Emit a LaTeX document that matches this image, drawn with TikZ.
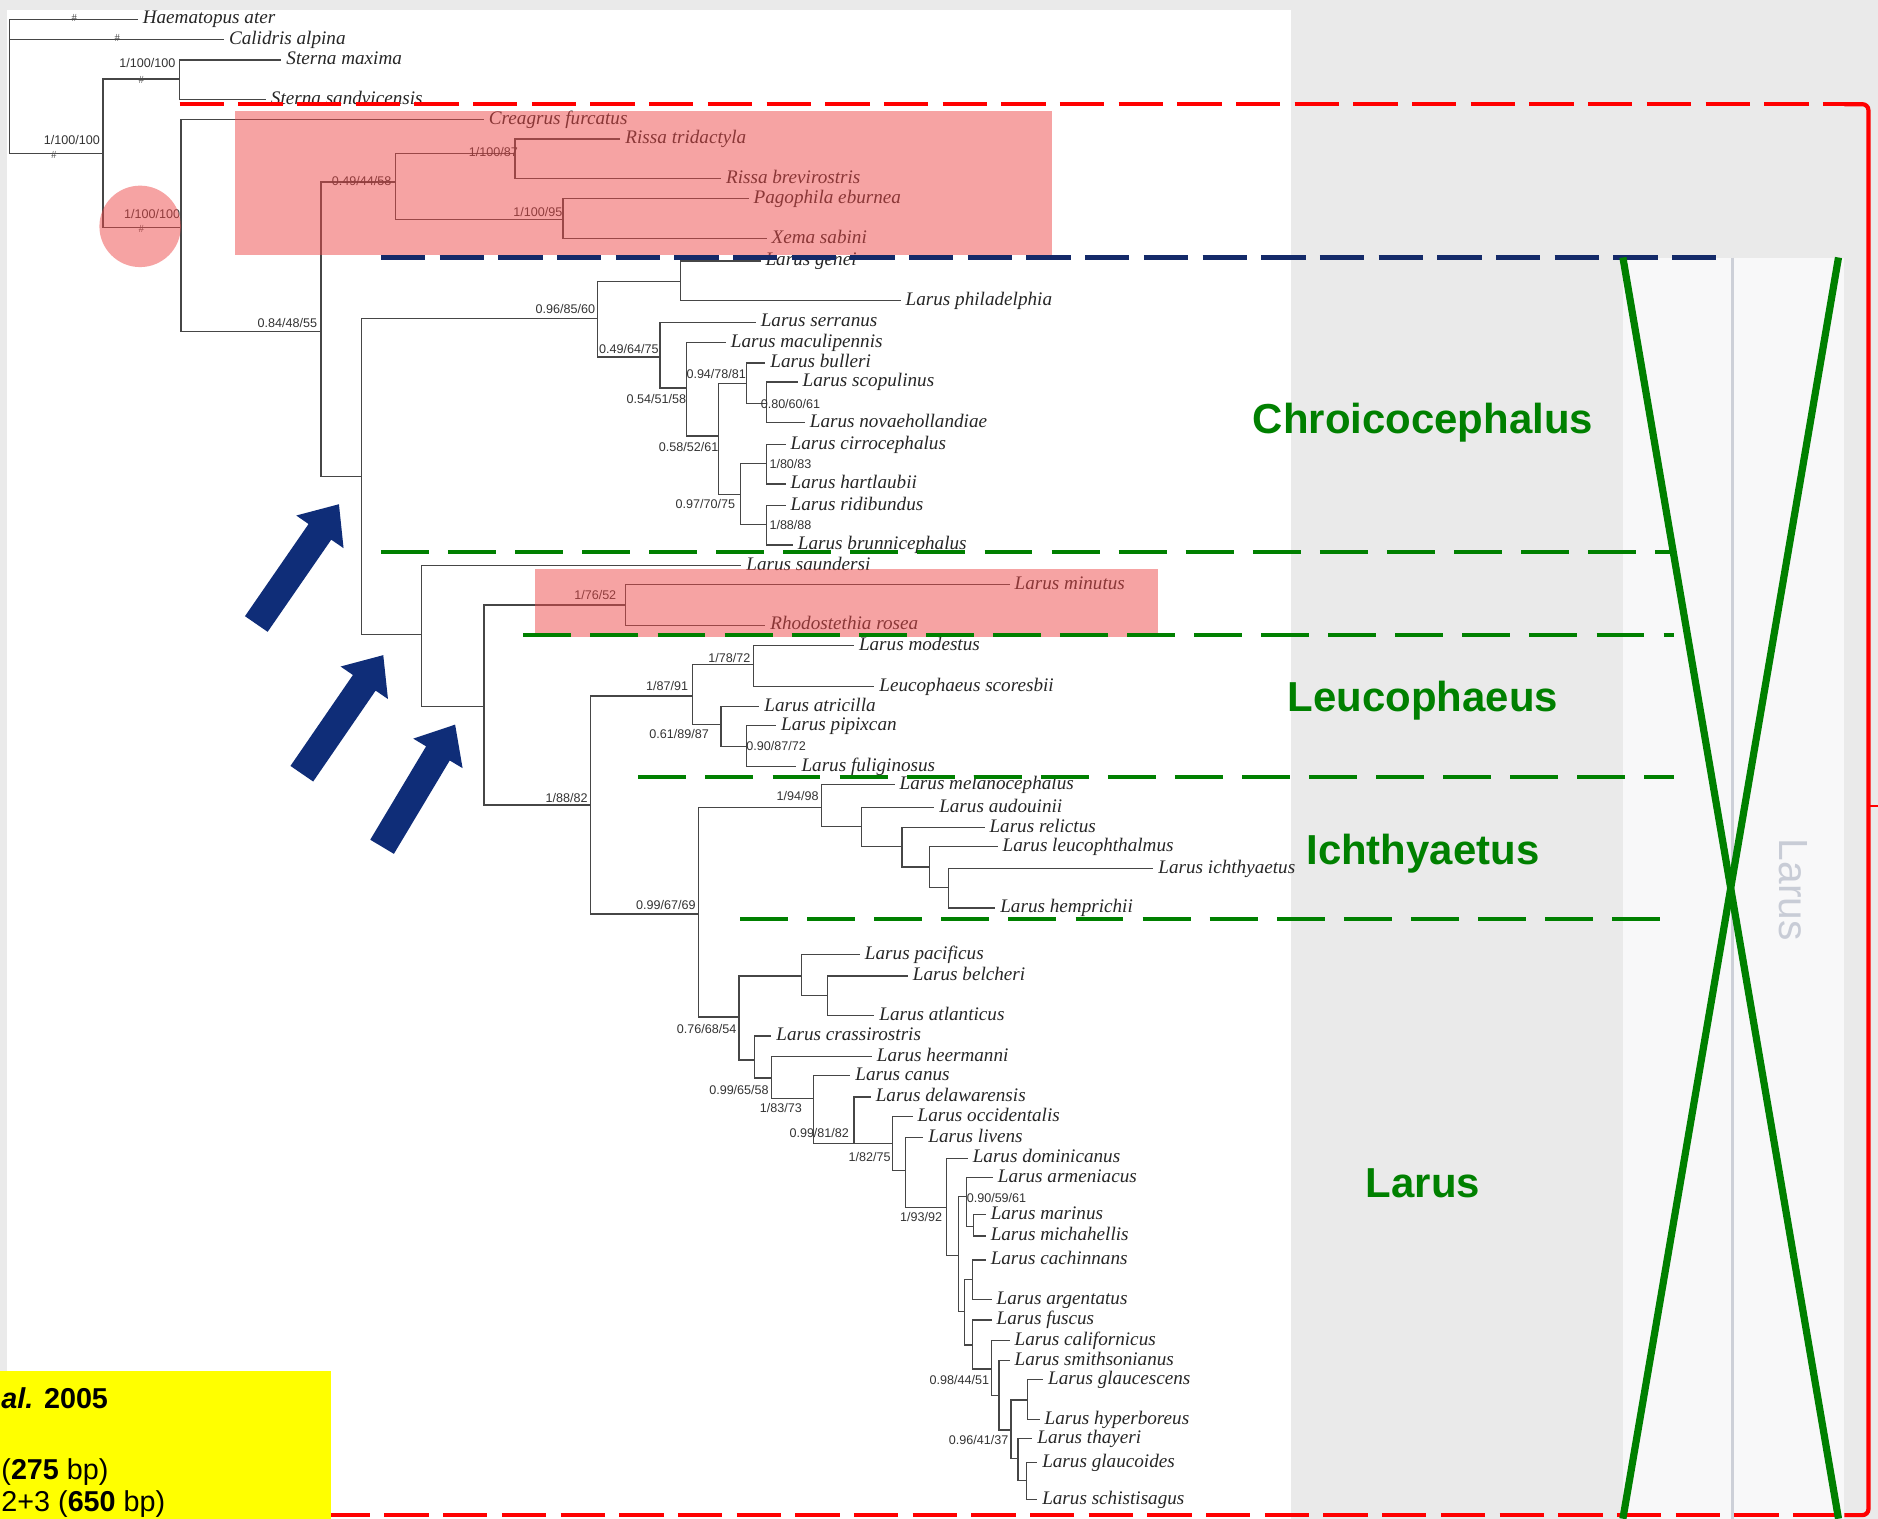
\documentclass[tikz,border=0pt]{standalone}
\usepackage{fontspec}
\setmainfont{Liberation Serif}
\newfontfamily\arialfont{Liberation Sans}
\usetikzlibrary{calc}

\definecolor{bggray}{RGB}{234,234,234}
\definecolor{colwhite}{RGB}{248,248,249}
\definecolor{sepgray}{RGB}{205,208,216}
\definecolor{treeline}{RGB}{70,70,70}
\definecolor{cladered}{RGB}{238,72,72}
\definecolor{framered}{RGB}{255,0,0}
\definecolor{navyline}{RGB}{20,42,105}
\definecolor{navyfill}{RGB}{15,45,120}
\definecolor{genusgreen}{RGB}{0,128,0}
\definecolor{faintlabel}{RGB}{200,204,214}
\definecolor{notebox}{RGB}{255,255,0}

\tikzset{
  br/.style={draw=treeline, line width=1.1pt},
  leaf/.style={anchor=west, inner xsep=4pt, inner ysep=0pt, text height=11pt, text depth=3pt,
    font=\fontsize{16}{16}\selectfont\itshape, text=black!85},
  supp/.style={inner sep=0pt, font=\arialfont\fontsize{10.5}{10.5}\selectfont, text=black!80},
  hashmark/.style={inner sep=0pt, font=\fontsize{9}{9}\selectfont, text=black!70},
  genus/.style={inner sep=0pt, font=\arialfont\bfseries\fontsize{35}{35}\selectfont, text=genusgreen},
  cladebox/.style={fill=cladered, fill opacity=0.5},
  framedash/.style={draw=framered, line width=3.5pt, dash pattern=on 37pt off 12pt},
  basaldash/.style={draw=navyline, line width=3.5pt, dash pattern=on 37pt off 12pt},
  genusdash/.style={draw=genusgreen, line width=3.5pt, dash pattern=on 40pt off 16pt},
  crossline/.style={draw=genusgreen, line width=6pt},
  notetext/.style={anchor=base west, inner sep=0pt, font=\arialfont\fontsize{24}{24}\selectfont},
}

% internal node: coordinate plus elbow branch from its parent
\newcommand{\tnode}[4]{\coordinate (#1) at (#3,#4); \draw[br] (#2) |- (#1);}
% terminal taxon: label plus elbow branch from its parent
\newcommand{\tleaf}[5]{\node[leaf] (#1) at (#3,#4) {#5}; \draw[br] (#2) |- (#1);}
% block arrow from tail to tip
\newcommand{\blockarrow}[3]{%
  \coordinate (#1b) at ($(#3)!28pt!(#2)$);
  \fill[navyfill] ($(#2)!11.5pt!90:(#3)$) -- ($(#1b)!11.5pt!90:(#3)$) -- ($(#1b)!24pt!90:(#3)$)
    -- (#3) -- ($(#1b)!24pt!-90:(#3)$) -- ($(#1b)!11.5pt!-90:(#3)$) -- ($(#2)!11.5pt!-90:(#3)$) -- cycle;}

\begin{document}
\begin{tikzpicture}[x=1pt, y=-1pt]
\useasboundingbox (0,0) rectangle (1568,1268);
\clip (0,0) rectangle (1568,1268);

% backdrop
\fill[bggray] (0,0) rectangle (1568,1268);
\fill[white] (6,8) rectangle (1078,1268);
\fill[colwhite] (1355,215) rectangle (1445,1268);
\fill[colwhite] (1448,215) rectangle (1540,1268);
\draw[sepgray, line width=2pt] (1446.5,215) -- (1446.5,1268);
\node[font=\arialfont\fontsize{34}{34}\selectfont, text=faintlabel, rotate=-90] (rotlarus) at (1497,743) {Larus};

% ---------------- tree ----------------
\coordinate (r0) at (8,72);
\tleaf{haem}{r0}{115}{16}{Haematopus ater}
\tleaf{cali}{r0}{187}{33}{Calidris alpina}
\tnode{n1}{r0}{86}{128}
\tnode{n2}{n1}{150}{66}
\tleaf{smax}{n2}{235}{50}{Sterna maxima}
\tleaf{ssan}{n2}{222}{83}{Sterna sandvicensis}
\tnode{n3}{n1}{151}{190}
\tleaf{creg}{n3}{404}{100}{Creagrus furcatus}
\tnode{n4}{n3}{268}{277}
\tnode{n5}{n4}{330}{152}
\tnode{n7}{n5}{430}{128}
\tleaf{rtri}{n7}{518}{116}{Rissa tridactyla}
\tleaf{rbre}{n7}{602}{149}{Rissa brevirostris}
\tnode{n8}{n5}{470}{183}
\tleaf{pebu}{n8}{625}{166}{Pagophila eburnea}
\tleaf{xsab}{n8}{640}{199}{Xema sabini}
\tnode{n6}{n4}{302}{398}
\tnode{n9}{n6}{499}{266}
\tnode{n11}{n9}{568}{235}
\tleaf{lgen}{n11}{635}{218}{Larus genei}
\tleaf{lphi}{n11}{752}{251}{Larus philadelphia}
\tnode{n12}{n9}{551}{298}
\tleaf{lser}{n12}{631}{269}{Larus serranus}
\tnode{n13}{n12}{573}{324}
\tleaf{lmac}{n13}{606}{286}{Larus maculipennis}
\tnode{n14}{n13}{600}{364}
\tnode{n15}{n14}{623}{320}
\tleaf{lbul}{n15}{639}{303}{Larus bulleri}
\tnode{n17}{n15}{640}{337}
\tleaf{lsco}{n17}{666}{319}{Larus scopulinus}
\tleaf{lnov}{n17}{672}{353}{Larus novaehollandiae}
\tnode{n16}{n14}{618}{413}
\tnode{n18}{n16}{640}{387}
\tleaf{lcir}{n18}{656}{371}{Larus cirrocephalus}
\tleaf{lhar}{n18}{656}{404}{Larus hartlaubii}
\tnode{n19}{n16}{640}{438}
\tleaf{lrid}{n19}{656}{422}{Larus ridibundus}
\tleaf{lbru}{n19}{662}{455}{Larus brunnicephalus}
\tnode{n10}{n6}{352}{530}
\tleaf{lsau}{n10}{619}{472}{Larus saundersi}
\tnode{n20}{n10}{404}{590}
\tnode{n21}{n20}{522}{505}
\tleaf{lmin}{n21}{843}{488}{Larus minutus}
\tleaf{rros}{n21}{639}{522}{Rhodostethia rosea}
\tnode{n22}{n20}{493}{672}
\tnode{n23}{n22}{578}{581}
\tnode{n25}{n23}{629}{555}
\tleaf{lmod}{n25}{713}{539}{Larus modestus}
\tleaf{lesc}{n25}{730}{573}{Leucophaeus scoresbii}
\tnode{n26}{n23}{602}{605}
\tleaf{latr}{n26}{634}{590}{Larus atricilla}
\tnode{n27}{n26}{623}{623}
\tleaf{lpip}{n27}{648}{606}{Larus pipixcan}
\tleaf{lful}{n27}{665}{640}{Larus fuliginosus}
\tnode{n24}{n22}{583}{763}
\tnode{n28}{n24}{686}{674}
\tleaf{lmel}{n28}{747}{655}{Larus melanocephalus}
\tnode{n30}{n28}{719}{690}
\tleaf{laud}{n30}{780}{674}{Larus audouinii}
\tnode{n31}{n30}{753}{707}
\tleaf{lrel}{n31}{822}{691}{Larus relictus}
\tnode{n32}{n31}{776}{724}
\tleaf{lleu}{n32}{833}{707}{Larus leucophthalmus}
\tnode{n33}{n32}{792}{741}
\tleaf{lich}{n33}{963}{725}{Larus ichthyaetus}
\tleaf{lhem}{n33}{831}{758}{Larus hemprichii}
\tnode{n29}{n24}{617}{849}
\tnode{n34}{n29}{669}{815}
\tleaf{lpac}{n34}{718}{797}{Larus pacificus}
\tnode{n36}{n34}{691}{831}
\tleaf{lbel}{n36}{758}{815}{Larus belcheri}
\tleaf{latl}{n36}{730}{848}{Larus atlanticus}
\tnode{n35}{n29}{630}{885}
\tleaf{lcra}{n35}{644}{865}{Larus crassirostris}
\tnode{n37}{n35}{644}{900}
\tleaf{lhee}{n37}{728}{882}{Larus heermanni}
\tnode{n38}{n37}{679}{917}
\tleaf{lcan}{n38}{710}{898}{Larus canus}
\tnode{n39}{n38}{713}{955}
\tleaf{ldel}{n39}{727}{916}{Larus delawarensis}
\tnode{n40}{n39}{745}{955}
\tleaf{locc}{n40}{762}{932}{Larus occidentalis}
\tnode{n41}{n40}{756}{977}
\tleaf{lliv}{n41}{771}{950}{Larus livens}
\tnode{n42}{n41}{790}{1008}
\tleaf{ldom}{n42}{808}{967}{Larus dominicanus}
\tnode{n43}{n42}{800}{1048}
\tnode{n44}{n43}{807}{999}
\tleaf{larm}{n44}{829}{983}{Larus armeniacus}
\tnode{n46}{n44}{813}{1024}
\tleaf{lmar}{n46}{823}{1014}{Larus marinus}
\tleaf{lmic}{n46}{823}{1032}{Larus michahellis}
\tnode{n45}{n43}{805}{1095}
\tnode{n47}{n45}{812}{1068}
\tleaf{lcac}{n47}{823}{1052}{Larus cachinnans}
\tleaf{larg}{n47}{828}{1085}{Larus argentatus}
\tnode{n48}{n45}{812}{1123}
\tleaf{lfus}{n48}{828}{1102}{Larus fuscus}
\tnode{n49}{n48}{828}{1143}
\tleaf{lcal}{n49}{843}{1119}{Larus californicus}
\tnode{n50}{n49}{834}{1165}
\tleaf{lsmi}{n50}{843}{1136}{Larus smithsonianus}
\tnode{n51}{n50}{844}{1194}
\tnode{n52}{n51}{858}{1169}
\tleaf{lgla}{n52}{871}{1152}{Larus glaucescens}
\tleaf{lhyp}{n52}{868}{1185}{Larus hyperboreus}
\tnode{n53}{n51}{850}{1218}
\tleaf{ltha}{n53}{862}{1201}{Larus thayeri}
\tnode{n54}{n53}{857}{1236}
\tleaf{lglo}{n54}{866}{1221}{Larus glaucoides}
\tleaf{lsch}{n54}{866}{1252}{Larus schistisagus}

% support values
\node[supp] (s1) at (123,53) {1/100/100};
\node[supp] (s2) at (60,117) {1/100/100};
\node[supp] (s3) at (127,179) {1/100/100};
\node[supp] (s4) at (240,270) {0.84/48/55};
\node[supp] (s5) at (302,151) {0.49/44/58};
\node[supp] (s6) at (412,127) {1/100/87};
\node[supp] (s7) at (449,177) {1/100/95};
\node[supp] (s8) at (472,258) {0.96/85/60};
\node[supp] (s9) at (525,291) {0.49/64/75};
\node[supp] (s10) at (548,333) {0.54/51/58};
\node[supp] (s11) at (598,312) {0.94/78/81};
\node[supp] (s12) at (660,337) {0.80/60/61};
\node[supp] (s13) at (575,373) {0.58/52/61};
\node[supp] (s14) at (660,387) {1/80/83};
\node[supp] (s15) at (589,421) {0.97/70/75};
\node[supp] (s16) at (660,438) {1/88/88};
\node[supp] (s17) at (497,497) {1/76/52};
\node[supp] (s18) at (609,549) {1/78/72};
\node[supp] (s19) at (557,573) {1/87/91};
\node[supp] (s20) at (567,613) {0.61/89/87};
\node[supp] (s21) at (648,623) {0.90/87/72};
\node[supp] (s22) at (473,666) {1/88/82};
\node[supp] (s23) at (666,665) {1/94/98};
\node[supp] (s24) at (556,756) {0.99/67/69};
\node[supp] (s25) at (590,859) {0.76/68/54};
\node[supp] (s26) at (617,910) {0.99/65/58};
\node[supp] (s27) at (652,925) {1/83/73};
\node[supp] (s28) at (684,946) {0.99/81/82};
\node[supp] (s29) at (726,966) {1/82/75};
\node[supp] (s30) at (769,1016) {1/93/92};
\node[supp] (s31) at (832,1000) {0.90/59/61};
\node[supp] (s32) at (801,1152) {0.98/44/51};
\node[supp] (s33) at (817,1202) {0.96/41/37};

% constraint marks
\node[hashmark] (h1) at (62,15) {\#};
\node[hashmark] (h2) at (98,32) {\#};
\node[hashmark] (h3) at (118,67) {\#};
\node[hashmark] (h4) at (45,129) {\#};
\node[hashmark] (h5) at (118,191) {\#};

% highlighted clades
\fill[cladebox] (196,93) rectangle (878,213);
\fill[cladebox] (447,475) rectangle (967,532);
\fill[cladebox] (117,189) circle[radius=34pt];

% genus boundaries
\draw[basaldash] (318,215) -- (1438,215);
\draw[genusdash] (318,461) -- (1398,461);
\draw[genusdash] (437,530) -- (1398,530);
\draw[genusdash] (533,649) -- (1398,649);
\draw[genusdash] (618,767) -- (1398,767);

% family frame
\draw[framedash] (150,87) -- (1546,87);
\draw[framered, line width=3.5pt, rounded corners=5pt] (1540,87) -- (1560,87) -- (1560,1265) -- (1540,1265);
\draw[framedash] (272,1265) -- (1546,1265);
\draw[framered, line width=2pt] (1560,673) -- (1568,673);

% crossed-out column
\draw[crossline] (1355,215) -- (1535,1268);
\draw[crossline] (1535,215) -- (1355,1268);

% genus names
\node[genus] (gchr) at (1188,353) {Chroicocephalus};
\node[genus] (gleu) at (1188,585) {Leucophaeus};
\node[genus] (gich) at (1188,713) {Ichthyaetus};
\node[genus] (glar) at (1188,988) {Larus};

% arrows
\coordinate (a1t) at (214,521); \coordinate (a1h) at (283,421);
\coordinate (a2t) at (252,646); \coordinate (a2h) at (320,547);
\coordinate (a3t) at (319,707); \coordinate (a3h) at (380,605);
\blockarrow{a1}{a1t}{a1h}
\blockarrow{a2}{a2t}{a2h}
\blockarrow{a3}{a3t}{a3h}

% note box
\fill[notebox] (0,1145) rectangle (276,1268);
\node[notetext] (nt1) at (1,1176) {\textbf{\textit{al.}} \textbf{2005}};
\node[notetext] (nt2) at (1,1235) {(\textbf{275} bp)};
\node[notetext] (nt3) at (1,1262) {2+3 (\textbf{650} bp)};
\end{tikzpicture}
\end{document}
